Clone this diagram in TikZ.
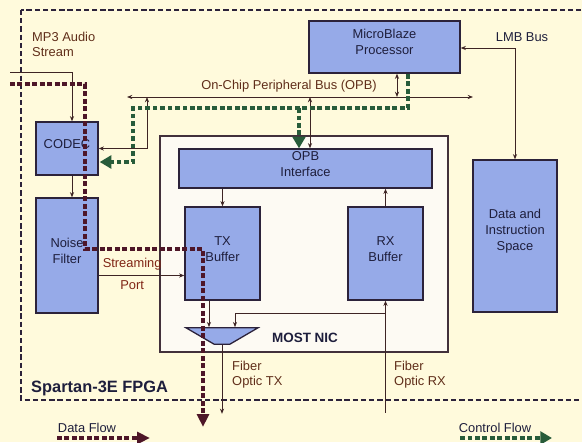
\documentclass[tikz,border=0pt]{standalone}
\usepackage{fontspec}
\setmainfont{Liberation Sans}
\usetikzlibrary{positioning, arrows.meta, shapes.geometric, fit, calc}

\definecolor{bgcream}{RGB}{255,250,220}
\definecolor{blkblue}{RGB}{150,170,232}
\definecolor{blkline}{RGB}{44,34,58}
\definecolor{nicfill}{RGB}{253,250,243}
\definecolor{dataflow}{RGB}{78,22,40}
\definecolor{ctrlflow}{RGB}{40,92,58}
\definecolor{wirecol}{RGB}{62,36,36}
\definecolor{lblbrown}{RGB}{96,46,26}
\definecolor{blktext}{RGB}{30,30,60}

\begin{document}
\begin{tikzpicture}[
  x=0.03cm, y=-0.03cm,
  blk/.style={draw=blkline, fill=blkblue, line width=1.1pt, inner sep=0pt, align=center,
    text=blktext, font=\fontsize{11}{13.6}\selectfont},
  nicbox/.style={draw=blkline!85!brown, fill=nicfill, line width=1pt, inner sep=0pt},
  muxbox/.style={trapezium, shape border rotate=180, trapezium angle=63, trapezium stretches=true,
    draw=blkline, fill=blkblue, line width=1.1pt, minimum width=2.16cm, minimum height=0.42cm,
    inner xsep=2pt, inner ysep=1pt},
  wire/.style={draw=wirecol, line width=0.7pt, -{Stealth[length=4.5pt, width=3.5pt]}},
  biwire/.style={wire, {Stealth[length=4.5pt, width=3.5pt]}-{Stealth[length=4.5pt, width=3.5pt]}},
  lbl/.style={text=lblbrown, align=left, inner sep=0pt, font=\fontsize{11}{12.75}\selectfont},
  fpga/.style={draw=blkline, line width=1pt, dash pattern=on 4.5pt off 2.5pt},
]

% Flow styles (thick dashed)
\tikzset{
  dflow/.style={draw=dataflow, line width=3pt, dash pattern=on 4.2pt off 2.2pt,
    -{Triangle[length=11pt, width=10pt]}},
  cflow/.style={draw=ctrlflow, line width=2.8pt, dash pattern=on 4.2pt off 2.2pt,
    -{Triangle[length=10pt, width=11pt]}},
}

% page and FPGA frame
\clip (0,0) rectangle (582,442);
\fill[bgcream] (0,0) rectangle (582,442);
\draw[fpga] (21,10) rectangle (600,400);

% =========================
% MOST NIC
% =========================
\node[nicbox, fit={(160,136) (448,352)}] (nic) {};
\node[blk, fit={(179,149) (432,188)}] (opbif) {OPB\\Interface};
\node[blk, fit={(185,207) (260,300)}] (tx) {TX\\Buffer};
\node[blk, fit={(348,207) (423,300)}] (rx) {RX\\Buffer};
\node[muxbox] (mux) at (222,336) {\strut};
\node[font=\fontsize{11.5}{13}\selectfont\bfseries, text=blktext] (niclbl) at (305,338) {MOST NIC};

% =========================
% Outside the NIC
% =========================
\node[blk, fit={(36,122) (98,175)}] (codec) {CODEC};
\node[blk, fit={(36,198) (98,313)}] (noise) {Noise\\Filter};
\node[blk, fit={(309,21) (460,73)}] (proc) {MicroBlaze\\Processor};
\node[blk, fit={(473,160) (557,312)}] (mem) {Data and\\Instruction\\Space};

% bus ends and free ends
\coordinate (opbL) at (127,97);
\coordinate (opbR) at (473,97);
\coordinate (mp3in) at (10,72);
\coordinate (cb) at (147,97);

% thin wires
\draw[wire] (mp3in) -| ($(codec.north)+(5,0)$);
\draw[wire] ($(codec.south)+(5,0)$) -- ($(noise.north)+(5,0)$);
\draw[biwire] (opbL) -- (opbR);
\coordinate (pb) at ($(proc.south)+(12.5,0)$);
\draw[biwire] (pb) -- (pb |- opbL);
\coordinate (ib) at ($(opbif.north)+(4.5,0)$);
\draw[biwire] (ib |- opbL) -- (ib);
\draw[biwire] (cb) |- (codec.east);
\draw[biwire] ($(proc.east)+(0,1)$) -| (mem.north);
\draw[wire] (opbif.south -| tx.north) -- (tx.north);
\draw[wire] (rx.north) -- (rx.north |- opbif.south);

% streaming port
\coordinate (sp) at ($(noise.east)+(0,20)$);
\draw[wire] (sp) -- (sp -| tx.west);
\path (sp) -- (sp -| tx.west)
  node[lbl, midway, above=4pt, xshift=-8pt, text=lblbrown!80!red] (strlbl) {Streaming}
  node[lbl, midway, below=4pt, xshift=-8pt, text=lblbrown!80!red] (portlbl) {Port};

% TX / RX side
\coordinate (tm) at ($(tx.south)+(-13.5,0)$);
\draw[wire] (tm) -- (tm |- mux.north);
\coordinate (rxin) at ($(rx.south)+(0,112)$);
\draw[wire] (rxin) -- (rx.south);
\coordinate (rb) at ($(rx.south)+(0,13)$);
\draw[wire] (rb) -| ($(mux.north)+(13,0)$);
\coordinate (txout) at ($(mux.south)+(0,69)$);
\draw[wire] (mux.south) -- (txout);

% =========================
% Data flow
% =========================
\coordinate (dfin) at (10,84);
\coordinate (dfa) at (85,249);
\coordinate (dfout) at (203,427);
\draw[dflow] (dfin) -| (dfa) -| (dfout);

% =========================
% Control flow
% =========================
\coordinate (cf0) at ($(proc.south)+(23.5,0)$);
\coordinate (cfa) at (133,108);
\coordinate (cftip) at ($(codec.east)+(1,13.5)$);
\coordinate (cfb) at (299,108);
\draw[cflow] (cf0) |- (cfa) |- (cftip);
\draw[cflow] (cfb) -- (cfb |- opbif.north);

% Labels
\node[lbl, anchor=north west] (mp3lbl) at (32,32) {MP3 Audio\\Stream};
\node[lbl, text=blktext] (lmblbl) at (522,37) {LMB Bus};
\node[lbl] (opblbl) at (289,86) {On-Chip Peripheral Bus (OPB)};
\node[lbl, anchor=north west] (ftxlbl) at (232,361) {Fiber\\Optic TX};
\node[lbl, anchor=north west] (frxlbl) at (394,361) {Fiber\\Optic RX};
\node[anchor=west, inner sep=0pt, text=blktext, font=\fontsize{14}{16}\selectfont\bfseries] (fpgalbl) at (31,388) {Spartan-3E FPGA};

% Legend
\node[lbl, text=blktext] (dflbl) at (87,428) {Data Flow};
\node[lbl, text=blktext] (cflbl) at (495,428) {Control Flow};
\coordinate (dfl0) at (57,438);
\coordinate (dfl1) at (150,438);
\coordinate (cfl0) at (460,438);
\coordinate (cfl1) at (552,438);
\draw[dflow] (dfl0) -- (dfl1);
\draw[cflow] (cfl0) -- (cfl1);

\end{tikzpicture}
\end{document}
